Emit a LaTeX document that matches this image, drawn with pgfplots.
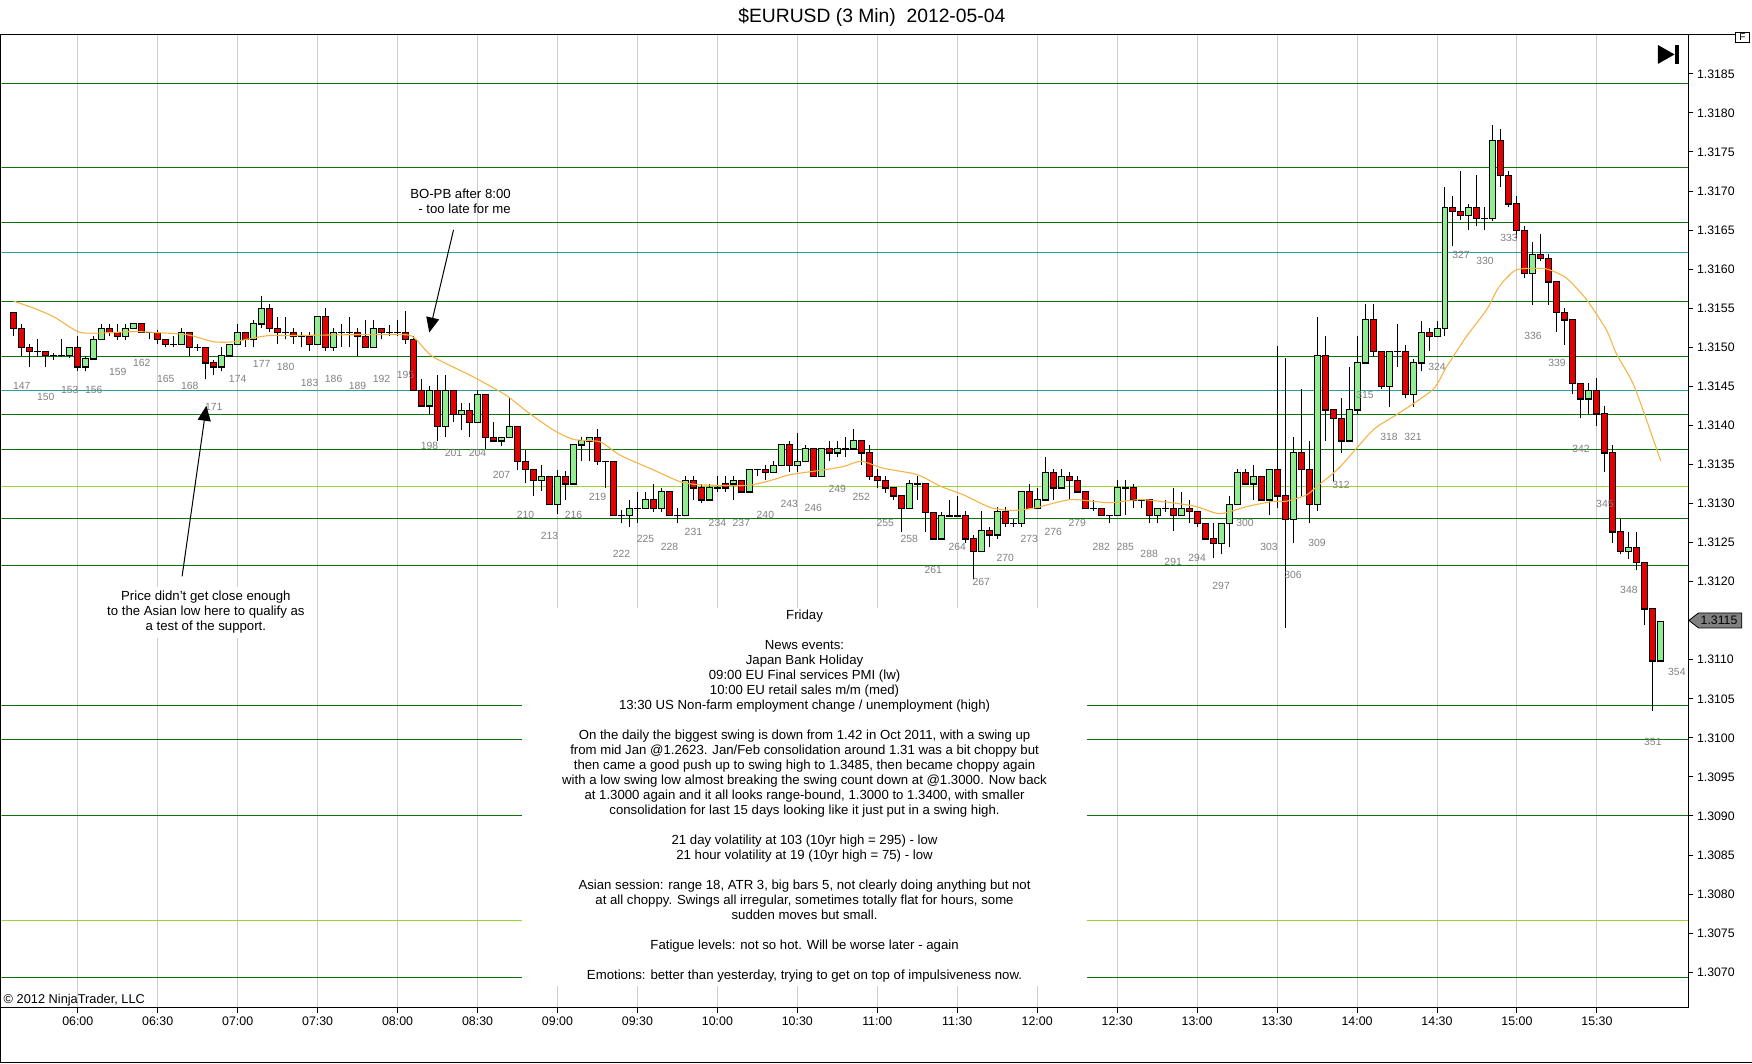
\documentclass[border=0pt]{standalone}
\usepackage{fontspec}
\setmainfont{Liberation Sans}
\usepackage{pgfplots}
\pgfplotsset{compat=1.18}
\usepackage{pgfplotstable}
\usetikzlibrary{arrows.meta}

\definecolor{upc}{RGB}{144,238,144}
\definecolor{dnc}{RGB}{228,0,0}
\definecolor{gline}{RGB}{10,115,10}
\definecolor{cline}{RGB}{40,160,160}
\definecolor{lgline}{RGB}{150,215,50}
\definecolor{maorange}{RGB}{245,180,70}
\definecolor{gridc}{RGB}{205,205,205}
\definecolor{labgray}{RGB}{128,128,128}
\definecolor{markgray}{RGB}{128,128,128}

% OHLC in pips above 1.3100
\pgfplotstableread{
n o h l c
146 54.5 54.5 51.5 52.4
147 52.4 53.0 48.9 50.0
148 50.0 50.4 47.5 49.5
149 49.5 51.0 48.8 49.5
150 49.5 49.5 47.5 49.0
151 49.0 49.3 48.4 49.0
152 49.0 51.0 48.8 49.0
153 49.0 50.0 48.6 50.0
154 50.0 51.4 46.9 47.5
155 47.5 48.9 46.9 48.5
156 48.5 51.5 48.5 51.0
157 51.0 53.0 51.0 52.4
158 52.4 53.0 51.4 51.9
159 51.9 53.0 50.9 51.4
160 51.4 53.0 50.9 52.4
161 52.4 53.0 52.4 53.0
162 53.0 53.0 51.9 51.9
163 51.9 51.9 51.0 51.9
164 51.9 52.2 50.4 51.0
165 51.0 51.0 50.0 50.4
166 50.4 51.4 50.0 50.4
167 50.4 52.4 50.4 51.9
168 51.9 51.9 48.9 50.0
169 50.0 50.4 49.5 50.0
170 50.0 50.0 45.9 48.0
171 48.0 48.4 46.4 47.5
172 47.5 50.0 46.9 48.9
173 48.9 50.4 48.9 50.4
174 50.4 53.0 50.4 51.9
175 51.9 51.9 50.0 51.0
176 51.0 53.5 50.0 53.0
177 53.0 56.5 52.4 55.0
178 55.0 55.6 51.9 52.4
179 52.4 53.9 50.4 51.9
180 51.9 53.9 51.0 51.9
181 51.9 52.4 50.4 51.4
182 51.4 51.9 50.0 51.4
183 51.4 51.9 49.5 50.4
184 50.4 53.9 50.4 53.9
185 53.9 55.0 49.5 50.0
186 50.0 52.4 49.5 51.9
187 51.9 53.0 50.0 51.9
188 51.9 53.9 50.0 51.9
189 51.9 52.4 48.9 51.4
190 51.4 53.5 50.0 50.0
191 50.0 53.5 50.0 52.4
192 52.4 52.4 51.0 51.9
193 51.9 52.9 51.4 51.9
194 51.9 53.5 51.4 51.9
195 51.9 54.6 50.4 51.0
196 51.0 51.5 44.5 44.5
197 44.5 45.9 42.5 42.5
198 42.5 45.0 41.4 44.5
199 44.5 46.5 38.0 39.9
200 39.9 46.5 38.5 44.5
201 44.5 44.5 40.4 41.4
202 41.4 42.9 39.4 41.9
203 41.9 42.9 38.5 40.4
204 40.4 44.5 40.4 44.0
205 44.0 44.0 37.0 38.5
206 38.5 40.4 38.0 38.0
207 38.0 38.5 37.4 38.5
208 38.5 43.5 38.5 39.9
209 39.9 39.9 34.3 35.4
210 35.4 36.9 32.6 34.4
211 34.4 34.4 30.9 33.0
212 33.0 34.9 31.6 33.5
213 33.5 33.5 29.9 29.9
214 29.9 34.3 28.6 33.5
215 33.5 34.1 30.5 32.5
216 32.5 37.5 32.5 37.5
217 37.5 38.5 35.4 38.0
218 38.0 38.5 35.4 38.5
219 38.5 39.5 34.9 35.4
220 35.4 35.4 32.0 35.4
221 35.4 35.4 28.5 28.5
222 28.5 29.2 27.5 28.5
223 28.5 30.5 27.0 29.4
224 29.4 31.5 27.5 29.4
225 29.4 31.5 29.4 30.5
226 30.5 32.5 28.9 29.4
227 29.4 32.0 28.9 31.5
228 31.5 31.5 28.5 28.5
229 28.5 29.4 27.5 28.5
230 28.5 33.5 28.5 33.0
231 33.0 33.5 30.5 32.0
232 32.0 32.5 30.0 30.5
233 30.5 32.5 30.5 32.0
234 32.0 33.5 31.5 32.0
235 32.5 33.5 31.5 32.0
236 32.5 33.5 30.5 33.0
237 33.0 33.0 31.5 31.5
238 31.5 34.4 31.5 34.4
239 34.4 34.4 33.5 34.4
240 34.4 34.9 33.0 34.0
241 34.0 35.4 34.0 34.9
242 34.9 37.5 34.9 37.5
243 37.5 38.0 34.0 34.9
244 34.9 39.0 34.0 35.4
245 35.4 37.5 35.4 37.0
246 37.0 37.0 33.5 33.5
247 33.5 37.0 33.5 37.0
248 37.0 38.0 35.4 36.5
249 36.5 38.0 35.9 37.0
250 37.0 38.5 35.9 37.0
251 37.0 39.5 37.0 38.0
252 38.0 38.0 34.9 36.5
253 36.5 37.5 33.0 33.5
254 33.5 34.4 32.0 33.0
255 33.0 33.5 31.4 32.0
256 32.0 32.0 30.4 31.0
257 31.0 31.0 26.4 29.4
258 29.4 33.0 29.4 32.5
259 32.5 33.5 30.4 32.5
260 32.5 32.5 26.4 28.9
261 28.9 28.9 25.5 25.5
262 25.5 28.9 25.5 28.4
263 28.4 30.5 28.4 28.4
264 28.4 31.0 28.4 28.4
265 28.4 29.0 24.9 25.5
266 25.5 26.0 20.3 23.9
267 23.9 29.0 23.9 26.5
268 26.5 27.0 24.4 26.0
269 26.0 29.5 25.5 29.0
270 29.0 29.5 27.0 27.5
271 27.5 28.0 27.0 27.5
272 27.5 31.5 27.0 31.5
273 31.5 32.5 29.4 29.4
274 29.4 32.0 29.4 30.5
275 30.5 35.9 30.5 34.0
276 34.0 34.4 30.5 32.0
277 32.0 34.4 32.0 33.5
278 33.5 34.0 30.5 33.0
279 33.0 33.5 31.5 31.5
280 31.5 31.5 29.4 29.4
281 29.4 30.5 29.0 29.4
282 29.4 29.4 28.5 28.5
283 28.5 28.5 27.5 28.5
284 28.5 33.0 28.5 32.0
285 32.0 33.0 28.5 32.0
286 32.0 32.5 29.4 30.5
287 30.5 30.5 29.4 30.5
288 30.5 30.5 27.5 28.5
289 28.5 29.4 27.5 29.4
290 29.4 30.5 28.9 29.4
291 29.4 32.0 26.5 28.5
292 28.5 31.5 28.5 29.4
293 29.4 30.5 27.5 29.0
294 29.0 29.0 27.0 27.5
295 27.5 27.5 25.5 25.5
296 25.5 27.5 23.0 24.9
297 24.9 27.5 23.5 27.5
298 27.5 31.0 24.4 29.9
299 29.9 34.4 29.9 34.0
300 34.0 34.4 32.5 32.5
301 32.5 34.9 30.5 33.5
302 33.5 33.5 30.5 30.5
303 30.5 34.4 28.5 34.4
304 34.4 50.2 29.4 31.0
305 31.0 48.6 14.0 28.0
306 28.0 38.5 24.9 36.5
307 36.5 44.6 30.9 34.4
308 34.4 38.0 27.5 29.9
309 29.9 53.9 29.0 49.0
310 49.0 51.4 38.0 42.0
311 42.0 42.0 32.9 40.9
312 40.9 43.5 36.5 38.0
313 38.0 47.5 38.0 42.0
314 42.0 51.4 41.4 48.0
315 48.0 55.6 48.0 53.5
316 53.5 55.6 48.8 49.5
317 49.5 49.5 44.6 45.0
318 45.0 49.5 42.4 49.5
319 49.5 53.0 47.5 49.5
320 49.5 50.3 43.5 44.0
321 44.0 48.5 42.4 48.0
322 48.0 53.4 46.9 51.9
323 51.9 52.4 49.5 51.4
324 51.4 53.4 51.4 52.4
325 52.4 70.5 51.4 67.9
326 67.9 69.4 62.9 67.4
327 67.4 72.5 66.3 66.9
328 66.9 68.4 65.0 67.9
329 67.9 72.0 65.5 66.5
330 66.5 67.9 65.0 66.5
331 66.5 78.5 66.1 76.5
332 76.5 78.0 70.5 72.0
333 72.0 72.5 67.9 68.4
334 68.4 69.4 64.0 65.0
335 65.0 65.5 58.9 59.5
336 59.5 63.5 55.4 61.9
337 61.9 64.5 61.0 61.4
338 61.4 61.9 55.4 58.4
339 58.4 58.4 51.9 54.5
340 54.5 55.0 50.3 53.5
341 53.5 53.5 44.0 45.4
342 45.4 45.4 40.9 43.4
343 43.4 45.4 41.4 44.4
344 44.4 46.0 39.9 41.5
345 41.5 42.5 34.0 36.5
346 36.5 37.5 24.9 26.4
347 26.4 28.0 23.5 23.9
348 23.9 26.4 22.9 24.4
349 24.4 26.4 21.5 22.5
350 22.5 22.5 14.4 16.5
351 16.5 16.5 3.4 9.9
352 9.9 14.9 9.9 14.9
}\bars

\pgfplotstableread{
n p lab
147 45.0 147
150 43.6 150
153 44.6 153
156 44.6 156
159 46.9 159
162 48.0 162
165 45.9 165
168 45.0 168
171 42.4 171
174 45.9 174
177 47.9 177
180 47.5 180
183 45.4 183
186 45.9 186
189 45.0 189
192 45.9 192
195 46.4 195
198 37.4 198
201 36.5 201
204 36.5 204
207 33.6 207
210 28.5 210
213 25.9 213
216 28.5 216
219 30.9 219
222 23.5 222
225 25.5 225
228 24.4 228
231 26.4 231
234 27.5 234
237 27.5 237
240 28.5 240
243 29.9 243
246 29.4 246
249 31.9 249
252 30.9 252
255 27.5 255
258 25.5 258
261 21.5 261
264 24.4 264
267 19.9 267
270 23.0 270
273 25.5 273
276 26.4 276
279 27.5 279
282 24.4 282
285 24.4 285
288 23.5 288
291 22.5 291
294 23.0 294
297 19.5 297
300 27.5 300
303 24.4 303
306 20.9 306
309 24.9 309
312 32.4 312
315 43.9 315
318 38.5 318
321 38.5 321
324 47.5 324
327 61.8 327
330 61.0 330
333 64.0 333
336 51.4 336
339 48.0 339
342 37.0 342
345 30.0 345
348 18.9 348
351 -0.5 351
354 8.4 354
}\labs

\begin{document}
\begin{tikzpicture}
\begin{scope}[x=1pt,y=1pt]
\path[use as bounding box] (0,0) rectangle (1752,1064);
\end{scope}
\begin{axis}[
  at={(1pt,55.7pt)}, anchor=south west,
  scale only axis, width=1687.7pt, height=974pt,
  xmin=144.4625, xmax=355.425, ymin=-34.541, ymax=90.064,
  axis x line*=bottom, axis y line*=right,
  axis line style={black, line width=1pt},
  xtick={154,164,...,344},
  xticklabels={06:00,06:30,07:00,07:30,08:00,08:30,09:00,09:30,10:00,10:30,11:00,11:30,12:00,12:30,13:00,13:30,14:00,14:30,15:00,15:30},
  ytick={-30,-25,...,85},
  yticklabels={1.3070,1.3075,1.3080,1.3085,1.3090,1.3095,1.3100,1.3105,1.3110,{},1.3120,1.3125,1.3130,1.3135,1.3140,1.3145,1.3150,1.3155,1.3160,1.3165,1.3170,1.3175,1.3180,1.3185},
  tick align=outside, major tick length=5pt,
  tick style={black, line width=1pt},
  xmajorgrids, grid style={gridc, line width=1pt},
  xticklabel style={font=\fontsize{12.4}{14}\selectfont, anchor=base, inner sep=0pt, yshift=-13.2pt},
  yticklabel style={font=\fontsize{12.3}{14}\selectfont, anchor=west, inner sep=0pt, xshift=3.6pt},
  unbounded coords=jump,
]
% horizontal support / resistance lines
\addplot [gline, line width=1pt] coordinates {
 (144.4625,83.7) (355.425,83.7) (144.4625,nan)
 (144.4625,73.05) (355.425,73.05) (144.4625,nan)
 (144.4625,66.0) (355.425,66.0) (144.4625,nan)
 (144.4625,55.9) (355.425,55.9) (144.4625,nan)
 (144.4625,48.85) (355.425,48.85) (144.4625,nan)
 (144.4625,41.33) (355.425,41.33) (144.4625,nan)
 (144.4625,36.97) (355.425,36.97) (144.4625,nan)
 (144.4625,28.14) (355.425,28.14) (144.4625,nan)
 (144.4625,22.03) (355.425,22.03) (144.4625,nan)
 (144.4625,4.1) (355.425,4.1) (144.4625,nan)
 (144.4625,-0.25) (355.425,-0.25) (144.4625,nan)
 (144.4625,-9.98) (355.425,-9.98) (144.4625,nan)
 (144.4625,-30.7) (355.425,-30.7)
};
\addplot [cline, line width=1pt] coordinates {
 (144.4625,62.15) (355.425,62.15) (144.4625,nan)
 (144.4625,44.4) (355.425,44.4)
};
\addplot [lgline, line width=1pt] coordinates {
 (144.4625,32.15) (355.425,32.15) (144.4625,nan)
 (144.4625,-23.4) (355.425,-23.4)
};
% bar numbers
\addplot [draw=none, mark=none, nodes near coords, point meta=explicit symbolic,
  every node near coord/.style={anchor=center, inner sep=0pt, text=labgray, font=\fontsize{10.4}{12}\selectfont}]
  table [x=n, y=p, meta=lab] {\labs};
% wicks
\addplot [draw=none, mark=none, error bars/.cd, y dir=plus, y explicit, error mark=none,
  error bar style={draw=black, line width=1pt}]
  table [x=n, y=l, y error plus expr={\thisrow{h}-\thisrow{l}}] {\bars};
% body outlines
\addplot [draw=none, mark=none, error bars/.cd, y dir=both, y explicit, error mark=none,
  error bar style={draw=black, line width=7pt, line cap=butt}]
  table [x=n, y expr={min(\thisrow{o},\thisrow{c})},
         y error plus expr={abs(\thisrow{c}-\thisrow{o})+0.064},
         y error minus expr={0.064}] {\bars};
% up bodies
\addplot [draw=none, mark=none, unbounded coords=discard, error bars/.cd, y dir=plus, y explicit, error mark=none,
  error bar style={draw=upc, line width=5pt, line cap=butt}]
  table [x=n, y expr={\thisrow{c}>\thisrow{o}+0.15 ? \thisrow{o}+0.064 : nan},
         y error plus expr={\thisrow{c}-\thisrow{o}-0.128}] {\bars};
% down bodies
\addplot [draw=none, mark=none, unbounded coords=discard, error bars/.cd, y dir=plus, y explicit, error mark=none,
  error bar style={draw=dnc, line width=5pt, line cap=butt}]
  table [x=n, y expr={\thisrow{o}>\thisrow{c}+0.15 ? \thisrow{c}+0.064 : nan},
         y error plus expr={\thisrow{o}-\thisrow{c}-0.128}] {\bars};
% moving average
\addplot [maorange, line width=1.1pt, smooth, tension=0.4] coordinates {
(146,55.9) (148.5,55.0) (151,53.9) (154,52.0) (156,51.8) (161,52.0) (163.5,51.9) (167.7,51.6) (171,50.7) (173.5,50.7) (176,51.2) (178,51.5) (181,51.5) (188,51.6) (195,51.6) (196.3,51.0) (198.4,48.8) (203.3,46.3) (207.5,43.9) (210.4,41.6) (213.5,39.4) (216,38.2) (219.3,37.9) (221.8,36.2) (226,34.3) (229.3,32.8) (231.8,32.4) (237.7,32.3) (241,33.05) (243.1,33.7) (247.3,34.3) (249.8,34.75) (252,35.4) (254.8,34.5) (259,33.7) (261.9,32.2) (264.8,31.1) (268.1,29.5) (271,29.1) (274,29.5) (278.2,30.5) (283,30.1) (287.2,30.5) (293.5,29.7) (296.8,28.7) (300.2,29.6) (303.5,30.27) (305.2,30.3) (307.7,31.1) (309,32.2) (311.8,34.6) (316,39.4) (319.3,41.6) (323.5,44.6) (325.2,47.5) (327.7,51.4) (330.2,54.8) (331.8,57.8) (333.9,59.9) (337,60.1) (338.1,59.9) (340.2,58.85) (342.7,56.1) (345.2,52.2) (346.4,49.25) (348.5,45.4) (350.2,40.7) (352,35.4)
};
\end{axis}
\begin{scope}[x=1pt,y=1pt]
% frame
\draw[black, line width=1pt] (0,1029.7) -- (1736,1029.7);
\draw[black, line width=1pt] (0.5,1029.7) -- (0.5,1.3);
\draw[black, line width=1pt] (0,1.3) -- (1752,1.3);
% F box and end icon
\draw[black, line width=1pt, fill=white] (1736,1021.3) rectangle (1750,1031.7);
\node[font=\fontsize{10}{12}\selectfont, inner sep=0pt] at (1743,1026.5) {F};
\fill[black] (1658.3,1019) -- (1675,1009.5) -- (1658.3,1000) -- cycle;
\fill[black] (1675.5,1000) rectangle (1679,1019);
% title
\node[anchor=base, inner sep=0pt, font=\fontsize{19.3}{22}\selectfont] at (871.8,1041.7) {\$EURUSD (3 Min)\ \ 2012-05-04};
% copyright
\node[anchor=base west, inner sep=0pt, font=\fontsize{12.8}{15}\selectfont] at (3,59.5) {© 2012 NinjaTrader, LLC};
% last price marker
\draw[black, line width=0.8pt, fill=markgray] (1689.3,443.2) -- (1699,450.7) -- (1742.3,450.7) -- (1742.3,435.7) -- (1699,435.7) -- cycle;
\node[inner sep=0pt, font=\fontsize{12.3}{14}\selectfont] at (1719.5,443.2) {1.3115};
% white boxes behind notes
\fill[white] (522,456) rectangle (1087,77);
\fill[white] (100,477) rectangle (300,426);
% notes
\begin{scope}[every node/.style={anchor=base, inner sep=0pt, font=\fontsize{13.2}{15}\selectfont}]
\node at (804.5,443.7) {Friday};
\node at (804.5,413.7) {News events:};
\node at (804.5,398.7) {Japan Bank Holiday};
\node at (804.5,383.7) {09:00 EU Final services PMI (lw)};
\node at (804.5,368.7) {10:00 EU retail sales m/m (med)};
\node at (804.5,353.7) {13:30 US Non-farm employment change / unemployment (high)};
\node at (804.5,323.7) {On the daily the biggest swing is down from 1.42 in Oct 2011, with a swing up};
\node at (804.5,308.7) {from mid Jan @1.2623. Jan/Feb consolidation around 1.31 was a bit choppy but};
\node at (804.5,293.7) {then came a good push up to swing high to 1.3485, then became choppy again};
\node at (804.5,278.7) {with a low swing low almost breaking the swing count down at @1.3000. Now back};
\node at (804.5,263.7) {at 1.3000 again and it all looks range-bound, 1.3000 to 1.3400, with smaller};
\node at (804.5,248.7) {consolidation for last 15 days looking like it just put in a swing high.};
\node at (804.5,218.7) {21 day volatility at 103 (10yr high = 295) - low};
\node at (804.5,203.7) {21 hour volatility at 19 (10yr high = 75) - low};
\node at (804.5,173.7) {Asian session: range 18, ATR 3, big bars 5, not clearly doing anything but not};
\node at (804.5,158.7) {at all choppy. Swings all irregular, sometimes totally flat for hours, some};
\node at (804.5,143.7) {sudden moves but small.};
\node at (804.5,113.7) {Fatigue levels: not so hot. Will be worse later - again};
\node at (804.5,83.7) {Emotions: better than yesterday, trying to get on top of impulsiveness now.};
\node at (205.5,463.3) {Price didn't get close enough};
\node at (205.5,448.3) {to the Asian low here to qualify as};
\node at (205.5,433.3) {a test of the support.};
\node[anchor=base east] at (510.7,865.7) {BO-PB after 8:00};
\node[anchor=base east] at (510.7,850.5) {- too late for me};
\end{scope}
% arrows
\draw[black, line width=1pt, -{Triangle[length=15pt,width=13pt]}] (453.3,834) -- (429,731.3);
\draw[black, line width=1pt, -{Triangle[length=15pt,width=13pt]}] (181.7,487.3) -- (206,658);
\end{scope}
\end{tikzpicture}
\end{document}
